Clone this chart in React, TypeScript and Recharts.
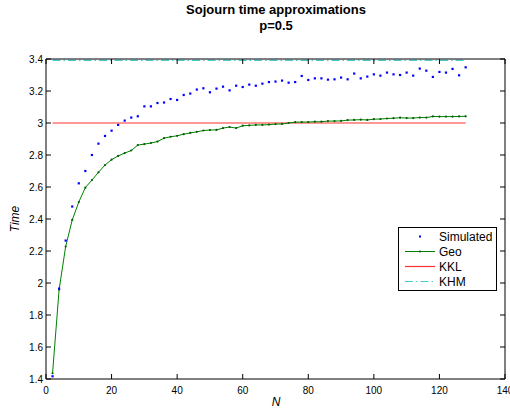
import React from "react";
import { LineChart, Line, XAxis, YAxis, Label } from "recharts";

const N_VALUES = [
  2, 4, 6, 8, 10, 12, 14, 16, 18, 20, 22, 24, 26, 28, 30, 32,
  34, 36, 38, 40, 42, 44, 46, 48, 50, 52, 54, 56, 58, 60, 62, 64,
  66, 68, 70, 72, 74, 76, 78, 80, 82, 84, 86, 88, 90, 92, 94, 96,
  98, 100, 102, 104, 106, 108, 110, 112, 114, 116, 118, 120, 122, 124, 126, 128,
];

const SIMULATED = [
  1.417, 1.965, 2.265, 2.478, 2.623, 2.7, 2.8, 2.871, 2.919, 2.952, 2.988, 3.015, 3.034, 3.042, 3.104, 3.104,
  3.125, 3.128, 3.15, 3.144, 3.175, 3.184, 3.209, 3.217, 3.192, 3.215, 3.227, 3.204, 3.233, 3.225, 3.24, 3.233,
  3.246, 3.256, 3.259, 3.265, 3.252, 3.256, 3.294, 3.269, 3.279, 3.279, 3.271, 3.273, 3.284, 3.273, 3.309, 3.279,
  3.29, 3.304, 3.296, 3.315, 3.304, 3.3, 3.315, 3.296, 3.34, 3.327, 3.288, 3.319, 3.315, 3.338, 3.298, 3.348,
];

const GEO = [
  1.436, 1.959, 2.228, 2.394, 2.506, 2.596, 2.643, 2.692, 2.737, 2.771, 2.794, 2.812, 2.828, 2.862, 2.868, 2.875,
  2.884, 2.905, 2.914, 2.92, 2.93, 2.938, 2.945, 2.953, 2.956, 2.957, 2.968, 2.975, 2.968, 2.983, 2.985, 2.988,
  2.988, 2.99, 2.993, 2.994, 3.0, 3.005, 3.006, 3.006, 3.008, 3.008, 3.012, 3.012, 3.013, 3.018, 3.019, 3.021,
  3.019, 3.024, 3.025, 3.028, 3.03, 3.033, 3.031, 3.031, 3.034, 3.034, 3.041, 3.04, 3.04, 3.04, 3.041, 3.042,
];

const KKL_VALUE = 3.0;
const KHM_VALUE = 3.392;

const X_TICKS = [0, 20, 40, 60, 80, 100, 120, 140];
const Y_TICKS = [1.4, 1.6, 1.8, 2, 2.2, 2.4, 2.6, 2.8, 3, 3.2, 3.4];

const SERIES = [
  { key: "simulated", name: "Simulated", color: "#0000ff" },
  { key: "geo", name: "Geo", color: "#008000" },
  { key: "kkl", name: "KKL", color: "#ff3030" },
  { key: "khm", name: "KHM", color: "#40cccc" },
];

const rows = N_VALUES.map((n, i) => ({
  n,
  simulated: SIMULATED[i],
  geo: GEO[i],
  kkl: KKL_VALUE,
  khm: KHM_VALUE,
}));

const FONT = '"Liberation Sans", Arial, Helvetica, sans-serif';
const DASH_DOT = "8 3 1.5 3";
const TICK_LEN = 5;
const TICK_COLOR = "#000";

const SimDot = (props: any) => {
  const { cx, cy, index } = props;
  if (cx == null || cy == null) return null;
  return <rect key={`s-${index}`} x={cx - 1.1} y={cy - 1.1} width={2.2} height={2.2} fill="#0000ff" />;
};

const GeoDot = (props: any) => {
  const { cx, cy, index } = props;
  if (cx == null || cy == null) return null;
  return <circle key={`g-${index}`} cx={cx} cy={cy} r={1.1} fill="#006000" />;
};

// MATLAB-style ticks point into the plot box
const BottomTick = (props: any) => {
  const { x, y, payload } = props;
  return (
    <g>
      <line x1={x} x2={x} y1={y} y2={y - TICK_LEN} stroke={TICK_COLOR} />
      <text x={x} y={y + 8} dy="0.71em" textAnchor="middle" fontSize={10} fontFamily={FONT} fill="#000">
        {payload.value}
      </text>
    </g>
  );
};

const TopTick = (props: any) => {
  const { x, y } = props;
  return <line x1={x} x2={x} y1={y} y2={y + TICK_LEN} stroke={TICK_COLOR} />;
};

const LeftTick = (props: any) => {
  const { x, y, payload } = props;
  return (
    <g>
      <line x1={x} x2={x + TICK_LEN} y1={y} y2={y} stroke={TICK_COLOR} />
      <text x={x - 3} y={y} dy="0.355em" textAnchor="end" fontSize={10} fontFamily={FONT} fill="#000">
        {String(payload.value)}
      </text>
    </g>
  );
};

const RightTick = (props: any) => {
  const { x, y } = props;
  return <line x1={x} x2={x - TICK_LEN} y1={y} y2={y} stroke={TICK_COLOR} />;
};

function LegendBox() {
  return (
    <svg width={99} height={64} style={{ position: "absolute", left: 398, top: 227 }}>
      <rect x={0.5} y={0.5} width={98} height={63} fill="#fff" stroke="#000" />
      {SERIES.map((s, i) => {
        const y = 9.5 + i * 15;
        return (
          <g key={s.key}>
            {s.key === "simulated" && <rect x={21} y={y - 1} width={2} height={2} fill={s.color} />}
            {s.key === "geo" && (
              <>
                <line x1={7} x2={37} y1={y} y2={y} stroke={s.color} strokeWidth={1} />
                <circle cx={22} cy={y} r={1.1} fill="#006000" />
              </>
            )}
            {s.key === "kkl" && <line x1={7} x2={37} y1={y} y2={y} stroke={s.color} strokeWidth={1.2} />}
            {s.key === "khm" && (
              <line x1={7} x2={37} y1={y} y2={y} stroke={s.color} strokeWidth={1.2} strokeDasharray={DASH_DOT} />
            )}
            <text x={41} y={y} dominantBaseline="central" fontSize={12} fontFamily={FONT} fill="#000">
              {s.name}
            </text>
          </g>
        );
      })}
    </svg>
  );
}

export default function App() {
  return (
    <div
      style={{
        position: "absolute",
        left: 0,
        top: 0,
        width: 510,
        height: 412,
        background: "#fff",
        fontFamily: FONT,
        overflow: "hidden",
      }}
    >
      <div
        style={{
          position: "absolute",
          left: 0,
          top: 2,
          width: 552,
          textAlign: "center",
          fontWeight: "bold",
          fontSize: 13,
          lineHeight: "16px",
          color: "#000",
        }}
      >
        Sojourn time approximations
        <br />
        p=0.5
      </div>
      <LineChart width={510} height={412} data={rows} margin={{ top: 58, right: 4, bottom: 0, left: 0 }}>
        <XAxis
          dataKey="n"
          type="number"
          domain={[0, 140]}
          ticks={X_TICKS}
          interval={0}
          height={33}
          tickSize={0}
          tickMargin={0}
          tick={BottomTick}
          tickLine={false}
          axisLine={{ stroke: "#000" }}
        >
          <Label
            content={() => (
              <text x={276} y={402} textAnchor="middle" dominantBaseline="central" fontSize={12} fontStyle="italic" fontFamily={FONT} fill="#000">
                N
              </text>
            )}
          />
        </XAxis>
        <XAxis
          xAxisId="top"
          orientation="top"
          dataKey="n"
          type="number"
          domain={[0, 140]}
          ticks={X_TICKS}
          interval={0}
          height={1}
          tickSize={0}
          tickMargin={0}
          tick={TopTick}
          tickLine={false}
          axisLine={{ stroke: "#000" }}
        />
        <YAxis
          type="number"
          domain={[1.4, 3.4]}
          ticks={Y_TICKS}
          interval={0}
          width={46}
          tickSize={0}
          tickMargin={0}
          tick={LeftTick}
          tickLine={false}
          axisLine={{ stroke: "#000" }}
          allowDataOverflow
        >
          <Label
            content={() => (
              <text
                x={15}
                y={219}
                transform="rotate(-90 15 219)"
                textAnchor="middle"
                dominantBaseline="central"
                fontSize={12}
                fontStyle="italic"
                fontFamily={FONT}
                fill="#000"
              >
                Time
              </text>
            )}
          />
        </YAxis>
        <YAxis
          yAxisId="right"
          orientation="right"
          type="number"
          domain={[1.4, 3.4]}
          ticks={Y_TICKS}
          interval={0}
          width={1}
          tickSize={0}
          tickMargin={0}
          tick={RightTick}
          tickLine={false}
          axisLine={{ stroke: "#000" }}
          allowDataOverflow
        />
        <Line
          dataKey="khm"
          name="KHM"
          stroke="#40cccc"
          strokeWidth={1.2}
          strokeDasharray={DASH_DOT}
          dot={false}
          activeDot={false}
          isAnimationActive={false}
        />
        <Line
          dataKey="kkl"
          name="KKL"
          stroke="#ff3030"
          strokeWidth={1.2}
          dot={false}
          activeDot={false}
          isAnimationActive={false}
        />
        <Line
          dataKey="geo"
          name="Geo"
          stroke="#008000"
          strokeWidth={1}
          dot={GeoDot}
          activeDot={false}
          isAnimationActive={false}
        />
        <Line
          dataKey="simulated"
          name="Simulated"
          stroke="none"
          dot={SimDot}
          activeDot={false}
          isAnimationActive={false}
        />
      </LineChart>
      <LegendBox />
    </div>
  );
}
